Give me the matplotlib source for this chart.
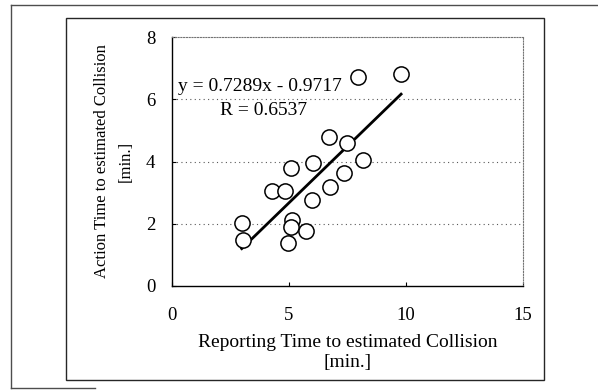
import matplotlib
matplotlib.use("Agg")
from matplotlib import pyplot as plt
from matplotlib.lines import Line2D
from matplotlib.patches import Rectangle
import numpy as np

# reporting time vs action time [min.]
report_time = [2.98, 3.05, 4.26, 4.83, 5.09, 5.11, 5.09, 4.94, 5.71, 5.97,
               6.01, 6.75, 6.72, 7.35, 7.49, 8.15, 7.96, 9.79]
action_time = [2.02, 1.48, 3.06, 3.06, 3.80, 2.12, 1.91, 1.39, 1.78, 2.77,
               3.94, 3.19, 4.78, 3.62, 4.59, 4.05, 6.71, 6.82]
slope = 0.7289
intercept = -0.9717
r_value = 0.6537
x_ticks = [0, 5, 10, 15]
y_ticks = [0, 2, 4, 6, 8]

W, H = 598, 392
plt.rcParams['font.family'] = ['Liberation Serif', 'DejaVu Serif']

fig = plt.figure(figsize=(W / 100, H / 100), dpi=100)
fig.patch.set_facecolor('white')


def px(x0, y0, x1, y1):
    # pixel box -> figure fraction rect
    return [x0 / W, 1 - y1 / H, (x1 - x0) / W, (y1 - y0) / H]


# chart area frame and outer scan frame
fig.patches.append(Rectangle((66 / W, 1 - 380 / H), (544 - 66) / W, (380 - 18) / H,
                             transform=fig.transFigure, fill=False,
                             edgecolor='0.15', linewidth=1.0))
for xs, ys in [((11, 11), (5, 388)), ((11, 598), (5, 5)), ((11, 95), (388, 388))]:
    fig.lines.append(Line2D([x / W for x in xs], [1 - y / H for y in ys],
                            transform=fig.transFigure, color='0.3', linewidth=1.0))

ax = fig.add_axes(px(172, 37, 523, 286))
ax.set_xlim(0, 15)
ax.set_ylim(0, 8)
ax.set_xticks(x_ticks)
ax.set_yticks(y_ticks)
ax.tick_params(direction='in', length=3, width=0.8, labelsize=13.5)
ax.tick_params(axis='x', pad=15)
ax.tick_params(axis='y', pad=12)

for side in ['top', 'right']:
    ax.spines[side].set_linestyle((0, (1, 1.5)))
    ax.spines[side].set_color('0.45')
    ax.spines[side].set_linewidth(0.8)
for side in ['left', 'bottom']:
    ax.spines[side].set_color('black')
    ax.spines[side].set_linewidth(1.0)

for yv in y_ticks[1:-1]:
    ax.axhline(yv, color='0.35', linestyle=(0, (1, 3)), linewidth=0.8, zorder=0)

ax.scatter(report_time, action_time, s=120, facecolors='white',
           edgecolors='black', linewidths=1.1, zorder=3)

xfit = np.array([min(report_time), max(report_time)])
ax.plot(xfit, slope * xfit + intercept, color='black', linewidth=2.0, zorder=2)

ax.text(0.26, 6.4, 'y = %.4fx - %.4f' % (slope, abs(intercept)), fontsize=14,
        ha='left', va='center', zorder=4)
ax.text(2.05, 5.63, 'R = %.4f' % r_value, fontsize=14,
        ha='left', va='center', zorder=4)

ax.set_xlabel('Reporting Time to estimated Collision\n[min.]', fontsize=14,
              linespacing=1.25, labelpad=7)
ax.set_ylabel('Action Time to estimated Collision\n[min.]', fontsize=12,
              linespacing=1.6, labelpad=9)

fig.savefig('out.png', dpi=100, facecolor='white')
